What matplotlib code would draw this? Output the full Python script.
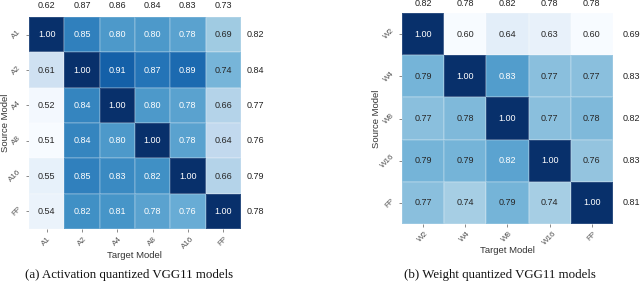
import numpy as np
import matplotlib
matplotlib.use("Agg")
import matplotlib.pyplot as plt
import seaborn as sns

sns.set_style("ticks")
plt.rcParams['font.family'] = ['Liberation Sans', 'DejaVu Sans']

# activation quantized models
act_labels = ["A1", "A2", "A4", "A8", "A16", "FP"]
act_vals = [
    [1.00, 0.85, 0.80, 0.80, 0.78, 0.69],
    [0.61, 1.00, 0.91, 0.87, 0.89, 0.74],
    [0.52, 0.84, 1.00, 0.80, 0.78, 0.66],
    [0.51, 0.84, 0.80, 1.00, 0.78, 0.64],
    [0.55, 0.85, 0.83, 0.82, 1.00, 0.66],
    [0.54, 0.82, 0.81, 0.78, 0.76, 1.00],
]
act_col_mean = [0.62, 0.87, 0.86, 0.84, 0.83, 0.73]
act_row_mean = [0.82, 0.84, 0.77, 0.76, 0.79, 0.78]

# weight quantized models
wt_labels = ["W2", "W4", "W8", "W16", "FP"]
wt_vals = [
    [1.00, 0.60, 0.64, 0.63, 0.60],
    [0.79, 1.00, 0.83, 0.77, 0.77],
    [0.77, 0.78, 1.00, 0.77, 0.78],
    [0.79, 0.79, 0.82, 1.00, 0.76],
    [0.77, 0.74, 0.79, 0.74, 1.00],
]
wt_col_mean = [0.82, 0.78, 0.82, 0.78, 0.78]
wt_row_mean = [0.69, 0.83, 0.82, 0.83, 0.81]

fig = plt.figure(figsize=(6.4, 2.93), dpi=100)
ax1 = fig.add_axes([0.0453, 0.2184, 0.331, 0.7235])
ax2 = fig.add_axes([0.628, 0.2355, 0.3297, 0.720])


def draw(ax, vals, labels, col_mean, row_mean, top_y, right_x, yl_x, xl_y):
    data = np.array(vals)
    sns.heatmap(data, ax=ax, cmap="Blues", vmin=data.min(), vmax=1.0,
                annot=True, fmt=".2f", cbar=False, square=False,
                linewidths=0.3, linecolor=(1, 1, 1, 0.15),
                annot_kws={"fontsize": 6.5})
    ax.set_xticklabels(labels, rotation=45, fontsize=5.8, color="#555555")
    ax.set_yticklabels(labels, rotation=45, fontsize=5.8, color="#555555",
                       va="center")
    ax.tick_params(length=2.5, width=0.6, color="#777777", pad=2)
    ax.set_xlabel("Target Model", fontsize=6.8, color="#333333")
    ax.set_ylabel("Source Model", fontsize=6.8, color="#333333")
    ax.yaxis.set_label_coords(yl_x, 0.5)
    ax.xaxis.set_label_coords(0.5, xl_y)
    for j, m in enumerate(col_mean):
        ax.text(j + 0.5, top_y, f"{m:.2f}", ha="center", va="center",
                fontsize=6.5, color="#222222", clip_on=False)
    for i, m in enumerate(row_mean):
        ax.text(right_x, i + 0.5, f"{m:.2f}", ha="left", va="center",
                fontsize=6.5, color="#222222", clip_on=False)


draw(ax1, act_vals, act_labels, act_col_mean, act_row_mean,
     -0.32, 6.17, -0.092, -0.102)
draw(ax2, wt_vals, wt_labels, wt_col_mean, wt_row_mean,
     -0.22, 5.22, -0.098, -0.106)

fig.text(129 / 640, 1 - 275 / 293, "(a) Activation quantized VGG11 models",
         ha="center", va="center", fontsize=9.3, family="Liberation Serif",
         color="#111111")
fig.text(500 / 640, 1 - 275 / 293, "(b) Weight quantized VGG11 models",
         ha="center", va="center", fontsize=9.3, family="Liberation Serif",
         color="#111111")

fig.savefig("out.png", dpi=100)
